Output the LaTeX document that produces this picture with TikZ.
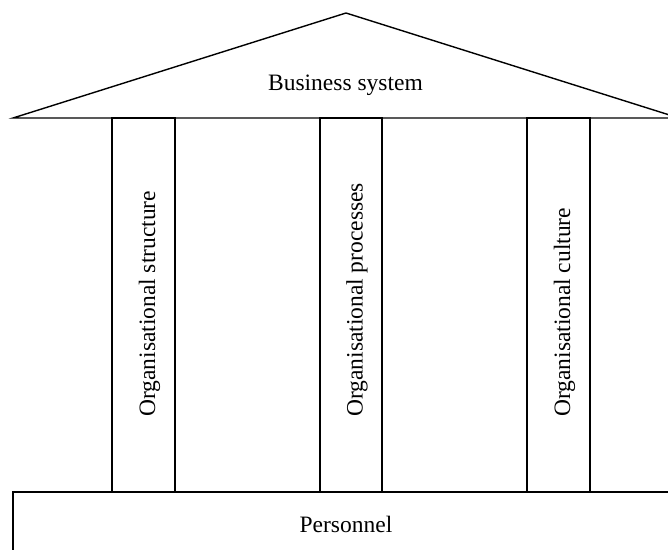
\documentclass[tikz,border=0pt]{standalone}
\usepackage{fontspec}
\setmainfont{Liberation Serif}
\begin{document}
\begin{tikzpicture}[x=1pt,y=-1pt,
  line/.style={draw=black,line width=1.4pt,line join=miter},
  lbl/.style={font=\fontsize{23.5}{28}\selectfont,inner sep=0pt,anchor=base},
  plbl/.style={font=\fontsize{23.5}{28}\selectfont,inner sep=0pt,rotate=90,anchor=base west}]
\useasboundingbox (0,0) rectangle (668,549);
\clip (0,0) rectangle (668,549);
% roof
\draw[line] (13,118) coordinate (rl) -- (346,13) coordinate (apex) -- (679,118) coordinate (rr) -- cycle;
\node[lbl] (bs) at (345.5,90) {Business system};
% pillars
\draw[line] (112,118) rectangle (175,492);
\draw[line] (320,118) rectangle (382,492);
\draw[line] (527,118) rectangle (590,492);
\node[plbl] (ps) at (155,417) {Organisational structure};
\node[plbl] (pp) at (362.5,417) {Organisational processes};
\node[plbl] (pc) at (570,417) {Organisational culture};
% base
\draw[line] (13,492) rectangle (690,570);
\node[lbl] (pers) at (346,532) {Personnel};
\end{tikzpicture}
\end{document}
